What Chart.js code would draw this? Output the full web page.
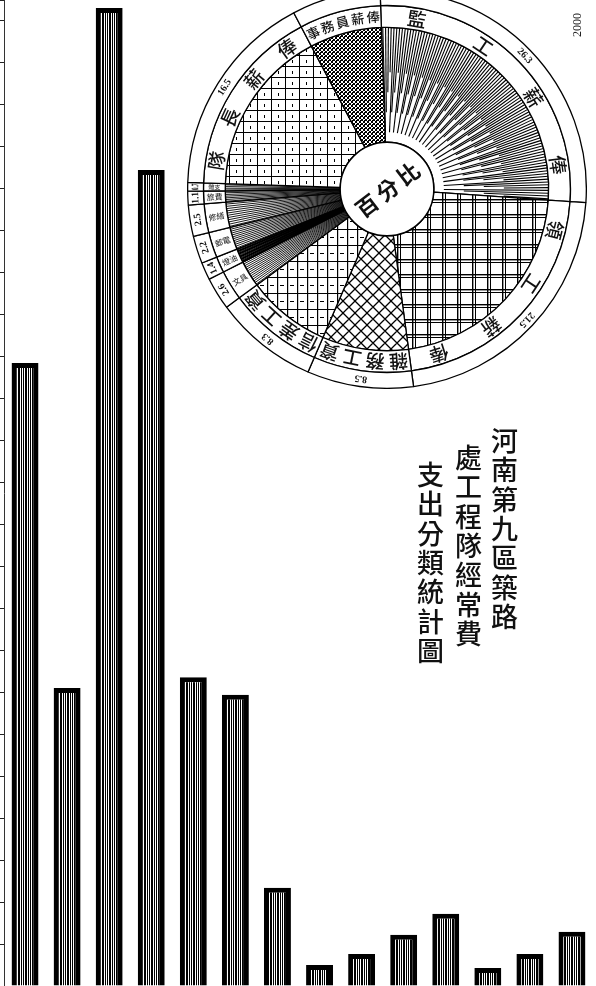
<!DOCTYPE html>
<html><head><meta charset="utf-8">
<script src="https://cdn.jsdelivr.net/npm/chart.js@4.4.0/dist/chart.umd.min.js"></script>
<style>
html,body{margin:0;padding:0;background:#fff;width:596px;height:986px;overflow:hidden;position:relative;}
#bar{position:absolute;left:0;top:0;}
#pie{position:absolute;left:187px;top:-11px;}
.col{position:absolute;writing-mode:vertical-rl;font-family:"Noto Sans CJK TC";font-size:27px;line-height:27px;letter-spacing:2.4px;color:#111;font-weight:500;}
#y2000{position:absolute;left:561px;top:18px;width:32px;height:14px;font-family:"Liberation Serif";font-size:12px;line-height:14px;text-align:center;color:#222;transform:rotate(-90deg);}
</style></head>
<body>
<canvas id="bar" width="596" height="986"></canvas>
<canvas id="pie" width="400" height="400"></canvas>
<div class="col" style="left:491px;top:427px;">河南第九區築路</div>
<div class="col" style="left:455px;top:444px;">處工程隊經常費</div>
<div class="col" style="left:417px;top:461px;">支出分類統計圖</div>
<div id="y2000">2000</div>
<script>
// ---------- data ----------
const barCategories = ['1','2','3','4','5','6','7','8','9','10','11','12','13','14'];
const barValues = [1485, 710, 2331, 1945, 736, 694, 234, 50, 76, 122, 172, 43, 76, 129];
const yAxisMax = 2350;
const yTickStep = 100;

const pieLabels = ['監工薪俸','領工薪俸','雜務工資','信差工資','文具','燈油','郵電','修繕','旅費','雜支','隊長薪俸','事務員薪俸'];
const piePercents = [26.3, 21.5, 8.5, 8.3, 2.6, 1.4, 2.2, 2.5, 1.1, 0.7, 16.5, 7.1];
const pieNumberTexts = ['26.3','21.5','8.5','8.3','2.6','1.4','2.2','2.5','1.1','0.7','16.5',''];
const centerText = '百分比';

// ---------- patterns ----------
function makePattern(ctx, w, h, draw){
  const c = document.createElement('canvas'); c.width = w; c.height = h;
  const x = c.getContext('2d');
  x.fillStyle = '#fff'; x.fillRect(0,0,w,h);
  x.fillStyle = '#000'; x.strokeStyle = '#000';
  draw(x, w, h);
  return ctx.createPattern(c, 'repeat');
}

const barCtx = document.getElementById('bar').getContext('2d');
const barFill = makePattern(barCtx, 7, 4, (x)=>{
  x.fillRect(0,0,1,4); x.fillRect(2,0,1,4); x.fillRect(4,0,2,4);
});

new Chart(barCtx, {
  type: 'bar',
  data: { labels: barCategories, datasets: [{
    data: barValues,
    backgroundColor: barFill,
    borderColor: '#000',
    borderWidth: {top:5, left:5, right:5, bottom:0},
    borderSkipped: 'start',
    barPercentage: 0.64,
    categoryPercentage: 1.0
  }]},
  options: {
    responsive: false, animation: false, events: [],
    layout: { padding: { left:0, right:3, top:0, bottom:0 } },
    plugins: { legend: {display:false}, tooltip: {enabled:false} },
    scales: {
      x: { display: false },
      y: { min: 0, max: yAxisMax,
           ticks: { display: false, stepSize: yTickStep },
           grid: { drawOnChartArea: false, drawTicks: true, tickLength: 4, color: '#222', lineWidth: 1 },
           border: { display: true, color: '#333', width: 1 } }
    }
  }
});

const pieCtx = document.getElementById('pie').getContext('2d');
const pGrid = makePattern(pieCtx, 15, 15, (x)=>{
  x.fillRect(0,0,15,1.4); x.fillRect(0,3,15,1); x.fillRect(0,0,1.4,15); x.fillRect(3,0,1,15);
});
const pDiamond = makePattern(pieCtx, 12, 12, (x)=>{
  x.lineWidth = 1.3;
  x.beginPath(); x.moveTo(0,0); x.lineTo(12,12); x.moveTo(12,0); x.lineTo(0,12);
  x.moveTo(-6,6); x.lineTo(6,18); x.moveTo(6,-6); x.lineTo(18,6);
  x.moveTo(6,-6); x.lineTo(-6,6); x.moveTo(18,6); x.lineTo(6,18);
  x.stroke();
});
const pDash = makePattern(pieCtx, 10, 16, (x)=>{
  x.fillRect(0,0,1.2,16); x.fillRect(0,0,10,1); x.fillRect(3,8,4,1);
});
const pFine = makePattern(pieCtx, 14, 11, (x)=>{
  x.fillRect(0,0,1,11); x.fillRect(0,0,14,1); x.fillRect(7,5,1,3);
});
const pDots = makePattern(pieCtx, 4, 4, (x)=>{
  x.fillRect(0,0,2,2); x.fillRect(2,2,2,2); x.fillRect(1,3,1,1);
});
const wedgeFills = ['#fff', pGrid, pDiamond, pDash, '#fff','#fff','#fff','#fff','#fff','#fff', pFine, pDots];
const radialSlices = {0:1.0, 4:0.7, 5:0.5, 6:0.7, 7:0.8, 8:0.6, 9:0.6};

const pieDeco = {
  id: 'pieDeco',
  afterDatasetsDraw(chart){
    const ctx = chart.ctx;
    const wedges = chart.getDatasetMeta(2).data;
    const labelArcs = chart.getDatasetMeta(1).data;
    const numArcs = chart.getDatasetMeta(0).data;
    ctx.save();
    // radial hatching
    wedges.forEach((el, i) => {
      if (!(i in radialSlices)) return;
      const p = el.getProps(['x','y','startAngle','endAngle','innerRadius','outerRadius'], true);
      ctx.save();
      ctx.beginPath();
      ctx.arc(p.x, p.y, p.outerRadius, p.startAngle, p.endAngle);
      ctx.arc(p.x, p.y, p.innerRadius, p.endAngle, p.startAngle, true);
      ctx.closePath(); ctx.clip();
      ctx.strokeStyle = '#000';
      const step = radialSlices[i] * Math.PI / 180;
      let k = 0;
      for (let a = p.startAngle + step/2; a < p.endAngle; a += step, k++) {
        const r0 = i === 0 ? p.innerRadius + 10 + (k % 4) * 20 : p.innerRadius;
        ctx.lineWidth = (i === 5 && k % 2 === 0) ? 2.2 : (i === 0 ? 1.1 : 0.9);
        ctx.beginPath();
        ctx.moveTo(p.x + r0*Math.cos(a), p.y + r0*Math.sin(a));
        ctx.lineTo(p.x + p.outerRadius*Math.cos(a), p.y + p.outerRadius*Math.sin(a));
        ctx.stroke();
      }
      ctx.restore();
    });
    // center circle
    const c0 = wedges[0].getProps(['x','y','innerRadius'], true);
    ctx.beginPath(); ctx.arc(c0.x, c0.y, c0.innerRadius, 0, Math.PI*2);
    ctx.fillStyle = '#fff'; ctx.fill();
    ctx.lineWidth = 1.5; ctx.strokeStyle = '#000'; ctx.stroke();
    ctx.save();
    ctx.translate(c0.x, c0.y); ctx.rotate(-37.5*Math.PI/180);
    ctx.fillStyle = '#111'; ctx.font = '600 22px "Noto Sans CJK TC"';
    ctx.textAlign = 'center'; ctx.textBaseline = 'middle';
    [...centerText].forEach((ch, j) => ctx.fillText(ch, (j-1)*26, 1));
    ctx.restore();
    // label ring text
    labelArcs.forEach((el, i) => {
      const p = el.getProps(['x','y','startAngle','endAngle','innerRadius','outerRadius'], true);
      const rm = (p.innerRadius + p.outerRadius)/2;
      const span = p.endAngle - p.startAngle;
      const chars = [...pieLabels[i]];
      ctx.fillStyle = '#111'; ctx.textAlign = 'center'; ctx.textBaseline = 'middle';
      if (span * rm > 60) {
        const per = span * rm / chars.length;
        const fs = Math.min(19, per * 0.85);
        ctx.font = '500 ' + fs + 'px "Noto Sans CJK TC"';
        chars.forEach((ch, j) => {
          const a = p.startAngle + span * (j + 0.5) / chars.length;
          ctx.save();
          ctx.translate(p.x + rm*Math.cos(a), p.y + rm*Math.sin(a));
          ctx.rotate(a + Math.PI/2);
          ctx.fillText(ch, 0, 0);
          ctx.restore();
        });
      } else {
        const a = (p.startAngle + p.endAngle)/2;
        const fs = Math.max(5, Math.min(8, span * rm * 0.8));
        ctx.font = fs + 'px "Noto Sans CJK TC"';
        ctx.save();
        ctx.translate(p.x + rm*Math.cos(a), p.y + rm*Math.sin(a));
        ctx.rotate(a + Math.PI);
        ctx.fillText(pieLabels[i], 0, 0, p.outerRadius - p.innerRadius - 2);
        ctx.restore();
      }
    });
    // number ring text
    numArcs.forEach((el, i) => {
      if (!pieNumberTexts[i]) return;
      const p = el.getProps(['x','y','startAngle','endAngle','innerRadius','outerRadius'], true);
      const rm = (p.innerRadius + p.outerRadius)/2;
      const a = (p.startAngle + p.endAngle)/2;
      const arcLen = (p.endAngle - p.startAngle) * rm;
      ctx.save();
      ctx.translate(p.x + rm*Math.cos(a), p.y + rm*Math.sin(a));
      ctx.rotate(a + Math.PI/2);
      ctx.fillStyle = '#111'; ctx.textAlign = 'center'; ctx.textBaseline = 'middle';
      ctx.font = 'bold 10px "Liberation Serif"';
      ctx.fillText(pieNumberTexts[i], 0, 0, Math.max(6, arcLen - 2));
      ctx.restore();
    });
    ctx.restore();
  }
};

new Chart(pieCtx, {
  type: 'doughnut',
  data: { labels: pieLabels, datasets: [
    { data: piePercents, weight: 16, backgroundColor: '#fff', borderColor: '#000', borderWidth: 1.3 },
    { data: piePercents, weight: 22, backgroundColor: '#fff', borderColor: '#000', borderWidth: 1.3 },
    { data: piePercents, weight: 116, backgroundColor: wedgeFills, borderColor: '#000', borderWidth: 1.3 }
  ]},
  options: {
    responsive: false, animation: false, events: [],
    rotation: -2, cutout: '23.5%',
    layout: { padding: 0 },
    plugins: { legend: {display:false}, tooltip: {enabled:false} }
  },
  plugins: [pieDeco]
});
</script>
</body></html>
